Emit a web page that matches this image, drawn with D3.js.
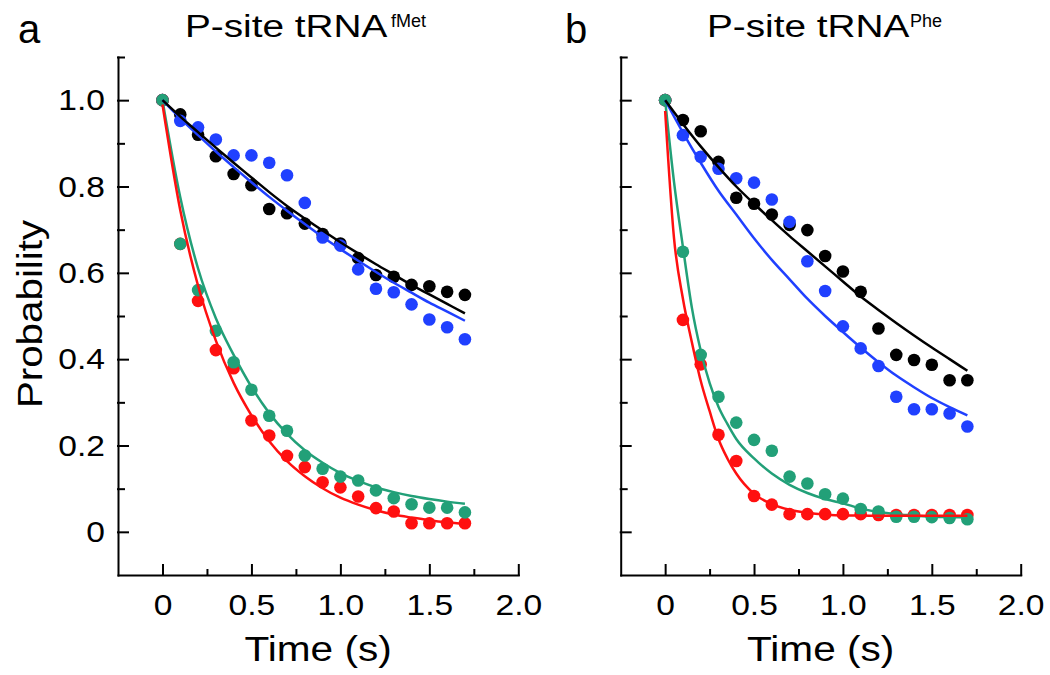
<!DOCTYPE html>
<html><head><meta charset="utf-8">
<script src="https://cdn.jsdelivr.net/npm/d3@7"></script>
<style>
body{margin:0;background:#fff;}
text{font-family:"Liberation Sans",Arial,Helvetica,sans-serif;fill:#000;}
</style>
</head><body>
<svg id="chart" width="1050" height="675"></svg>
<script>
// ---- data ----
const times = [0,0.1,0.2,0.3,0.4,0.5,0.6,0.7,0.8,0.9,1.0,1.1,1.2,1.3,1.4,1.5,1.6,1.7];
const fitTimesFine = [0,0.05,0.1,0.15,0.2,0.25,0.3,0.35,0.4,0.5,0.6,0.7,0.8,0.9,1.0,1.1,1.2,1.3,1.4,1.5,1.6,1.7];

const xTicksMajor = [0,0.5,1.0,1.5,2.0];
const xTicksMinor = [0.25,0.75,1.25,1.75];
const yTicksMajor = [0,0.2,0.4,0.6,0.8,1.0];
const yTicksMinor = [0.1,0.3,0.5,0.7,0.9,1.1];

// panel a: P-site tRNA fMet
const aBlack = [1.0,0.967,0.920,0.870,0.829,0.803,0.748,0.738,0.714,0.690,0.668,0.634,0.595,0.591,0.572,0.569,0.556,0.549];
const aBlue  = [1.0,0.952,0.937,0.909,0.872,0.872,0.855,0.826,0.762,0.682,0.663,0.608,0.563,0.555,0.527,0.492,0.474,0.446];
const aRed   = [1.0,0.667,0.535,0.421,0.379,0.258,0.223,0.176,0.150,0.115,0.103,0.082,0.055,0.047,0.020,0.020,0.020,0.020];
const aGreen = [1.0,0.667,0.560,0.466,0.393,0.329,0.269,0.234,0.177,0.146,0.128,0.119,0.096,0.078,0.064,0.056,0.056,0.045];
const aBlackFit = [1.0,0.962,0.926,0.890,0.855,0.821,0.787,0.755,0.726,0.698,0.671,0.645,0.620,0.596,0.572,0.550,0.528,0.506];
const aBlueFit  = [1.0,0.958,0.919,0.881,0.845,0.810,0.776,0.744,0.713,0.683,0.655,0.628,0.602,0.577,0.554,0.531,0.510,0.489];
const aRedFit   = [0.99,0.745,0.570,0.443,0.345,0.270,0.210,0.164,0.129,0.101,0.079,0.063,0.050,0.040,0.033,0.027,0.022,0.018];
const aGreenFit = [1.0,0.775,0.610,0.495,0.410,0.336,0.275,0.227,0.189,0.160,0.136,0.118,0.103,0.092,0.083,0.076,0.070,0.065];

// panel b: P-site tRNA Phe
const bBlack = [1.0,0.954,0.928,0.857,0.774,0.760,0.735,0.711,0.699,0.639,0.603,0.556,0.471,0.410,0.398,0.387,0.351,0.351];
const bBlue  = [1.0,0.919,0.869,0.841,0.819,0.809,0.770,0.718,0.627,0.558,0.476,0.425,0.384,0.313,0.284,0.284,0.274,0.244];
const bRed   = [1.0,0.491,0.388,0.225,0.164,0.083,0.063,0.041,0.041,0.041,0.041,0.041,0.039,0.039,0.039,0.039,0.039,0.039];
const bGreen = [1.0,0.649,0.410,0.313,0.253,0.213,0.188,0.128,0.112,0.087,0.077,0.053,0.047,0.035,0.035,0.034,0.032,0.029];
const bBlackFit = [1.0,0.945,0.893,0.845,0.800,0.760,0.722,0.685,0.650,0.615,0.580,0.545,0.514,0.484,0.455,0.427,0.400,0.373];
const bBlueFit  = [1.0,0.925,0.855,0.790,0.735,0.680,0.630,0.585,0.540,0.500,0.463,0.427,0.393,0.362,0.335,0.310,0.289,0.270];
const bRedFit   = [0.975,0.68,0.54,0.44,0.35,0.28,0.215,0.17,0.135,0.088,0.064,0.051,0.044,0.040,0.038,0.038,0.037,0.037,0.037,0.037,0.037,0.037];
const bGreenFit = [1.0,0.81,0.66,0.52,0.42,0.345,0.29,0.25,0.215,0.17,0.135,0.109,0.09,0.076,0.066,0.054,0.046,0.041,0.038,0.035,0.034,0.033];

const COL = {black:"#000000", blue:"#2040ff", red:"#ff1010", green:"#22a078"};

const svg = d3.select("#chart");
const fmt = d => d === 0 ? "0" : d.toFixed(1);
const SX = 1.12;

function drawPanel(p) {
  const g = svg.append("g");
  const x = d3.scaleLinear().domain([-0.25, 2.0]).range([p.x0, p.x1]);
  const y = d3.scaleLinear().domain([-0.1, 1.1]).range([575, 57]);

  // dots
  const series = [
    {v: p.black, c: COL.black}, {v: p.blue, c: COL.blue},
    {v: p.red, c: COL.red}, {v: p.green, c: COL.green}
  ];
  series.forEach(s => {
    g.append("g").selectAll("circle").data(times.map((t,i) => [t, s.v[i]]))
      .join("circle").attr("cx", d => x(d[0])).attr("cy", d => y(d[1]))
      .attr("r", 6.3).attr("fill", s.c);
  });

  // fit lines
  const line = d3.line().x(d => x(d[0])).y(d => y(d[1])).curve(d3.curveMonotoneX);
  const fits = [
    {t: p.greenT, v: p.greenFit, c: COL.green},
    {t: p.redT, v: p.redFit, c: COL.red},
    {t: times, v: p.blueFit, c: COL.blue},
    {t: times, v: p.blackFit, c: COL.black}
  ];
  fits.forEach(f => {
    g.append("path").datum(f.t.map((t,i) => [t, f.v[i]]))
      .attr("d", line).attr("fill", "none").attr("stroke", f.c)
      .attr("stroke-width", 2.5).attr("stroke-linejoin", "round");
  });

  // axes
  const ax = g.append("g").attr("transform", "translate(0,575)")
    .call(d3.axisBottom(x).tickValues(xTicksMajor).tickSizeInner(-10).tickSizeOuter(0)
      .tickPadding(18.5).tickFormat(fmt));
  g.append("g").attr("transform", "translate(0,575)")
    .call(d3.axisBottom(x).tickValues(xTicksMinor).tickSizeInner(-5).tickSizeOuter(0).tickFormat(""))
    .call(s => s.select(".domain").remove());
  const ay = g.append("g").attr("transform", `translate(${p.x0},0)`)
    .call(d3.axisLeft(y).tickValues(yTicksMajor).tickSizeInner(-10).tickSizeOuter(0)
      .tickPadding(13).tickFormat(p.yLabels ? fmt : ""));
  g.append("g").attr("transform", `translate(${p.x0},0)`)
    .call(d3.axisLeft(y).tickValues(yTicksMinor).tickSizeInner(-6).tickSizeOuter(0).tickFormat(""))
    .call(s => s.select(".domain").remove());

  g.selectAll(".domain, .tick line").attr("stroke", "#000").attr("stroke-width", 2)
    .attr("stroke-linecap", "square");
  ax.selectAll(".tick text").attr("font-size", 30).attr("transform", `scale(${SX},1)`)
    .style("font-family", '"Liberation Sans",Arial,sans-serif');
  ay.selectAll(".tick text").attr("font-size", 30).attr("x", -13 / SX)
    .attr("transform", `scale(${SX},1)`)
    .style("font-family", '"Liberation Sans",Arial,sans-serif');

  // x title
  g.append("text").attr("transform", `translate(${(p.x0 + p.x1) / 2},661) scale(1.16,1)`)
    .attr("text-anchor", "middle").attr("font-size", 35).text("Time (s)");

  // panel letter
  g.append("text").attr("x", p.letterX).attr("y", 43).attr("font-size", 40).text(p.letter);

  // title
  g.append("text").attr("transform", `translate(${p.titleX},37) scale(1.25,1)`)
    .attr("font-size", 31).text("P-site tRNA");
  g.append("text").attr("x", p.supX).attr("y", 27).attr("font-size", 18).text(p.sup);

  if (p.yLabels) {
    g.append("text").attr("transform", "translate(42,314) rotate(-90) scale(1.12,1)")
      .attr("text-anchor", "middle").attr("font-size", 36).text("Probability");
  }
}

drawPanel({x0: 118, x1: 518.3, yLabels: true, letter: "a", letterX: 18,
  titleX: 185, supX: 391, sup: "fMet",
  black: aBlack, blue: aBlue, red: aRed, green: aGreen,
  blackFit: aBlackFit, blueFit: aBlueFit, redFit: aRedFit, greenFit: aGreenFit,
  redT: times, greenT: times});

drawPanel({x0: 620.7, x1: 1020.7, yLabels: false, letter: "b", letterX: 565,
  titleX: 707, supX: 910, sup: "Phe",
  black: bBlack, blue: bBlue, red: bRed, green: bGreen,
  blackFit: bBlackFit, blueFit: bBlueFit, redFit: bRedFit, greenFit: bGreenFit,
  redT: fitTimesFine, greenT: fitTimesFine});
</script>
</body></html>
